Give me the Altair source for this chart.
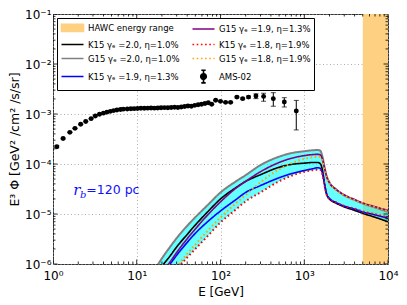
import altair as alt
import numpy as np
import pandas as pd

# ---------------- data ----------------
# AMS-02 points (flux values in units of 1e-3 GeV^2 cm^-2 s^-1 sr^-1)
ams_E = [1.11, 1.32, 1.59, 1.83, 2.14, 2.46, 2.85, 3.20, 3.59,
         4.0, 4.4, 4.84, 5.3, 5.8, 6.4, 6.9, 7.7, 8.5, 9.3,
         10.2, 11.2, 12.3, 13.5, 14.8, 16.2, 17.8, 19.5, 21.4, 23.5,
         25.8, 28.3, 31.0, 34.0, 37.3, 40.9, 44.9, 49.3, 54.1, 59.4,
         65.2, 71.5, 78.5, 87.6, 100, 115, 132, 157, 184, 216,
         265, 327, 427, 578, 803]
ams_F = [0.222, 0.324, 0.430, 0.516, 0.622, 0.710, 0.807, 0.912, 0.991,
         1.04, 1.09, 1.13, 1.17, 1.20, 1.23, 1.25, 1.26, 1.27, 1.28,
         1.29, 1.30, 1.30, 1.31, 1.32, 1.31, 1.32, 1.33, 1.34, 1.33,
         1.35, 1.36, 1.35, 1.38, 1.41, 1.45, 1.43, 1.49, 1.53, 1.57,
         1.62, 1.68, 1.57, 1.88, 1.79, 1.71, 1.71, 2.18, 2.03, 2.18,
         2.29, 2.25, 2.03, 1.74, 1.15]
ams_err_up = [0.01] * 9 + [0.02] * 10 + [0.02] * 10 + [0.02] * 10 + \
             [0.03, 0.03, 0.03, 0.04, 0.04, 0.04, 0.05, 0.08, 0.08, 0.10,
              0.24, 0.35, 0.64, 0.38, 0.72]
ams_err_dn = [0.01] * 9 + [0.02] * 10 + [0.02] * 10 + [0.02] * 10 + \
             [0.03, 0.03, 0.03, 0.04, 0.04, 0.04, 0.05, 0.08, 0.08, 0.10,
              0.26, 0.45, 0.60, 0.36, 0.67]

# model curves on a common energy grid (GeV)
E_grid = [15, 20, 25, 30, 40, 50, 70, 100, 150, 200, 300, 500, 700, 1000,
          1250, 1450, 1550, 1650, 1750, 1850, 2000, 2400, 2900, 4000, 5000,
          7000, 10000]
k15_20 = [4.5e-7, 9.0e-7, 1.45e-6, 2.2e-6, 3.9e-6, 6.0e-6, 1.1e-5, 2.0e-5, 3.3e-5,
          4.5e-5, 6.1e-5, 8.6e-5, 9.8e-5, 1.04e-4, 1.07e-4, 1.07e-4, 1.02e-4,
          7.5e-5, 4.0e-5, 2.5e-5, 2.0e-5, 1.65e-5, 1.42e-5, 1.18e-5, 1.03e-5,
          8.6e-6, 7.0e-6]
g15_20 = [6.0e-7, 1.3e-6, 2.2e-6, 3.3e-6, 5.8e-6, 8.6e-6, 1.5e-5, 2.7e-5, 4.4e-5,
          6.0e-5, 9.5e-5, 1.4e-4, 1.65e-4, 1.8e-4, 1.88e-4, 1.9e-4, 1.85e-4,
          1.4e-4, 8.5e-5, 5.8e-5, 4.3e-5, 3.1e-5, 2.45e-5, 1.9e-5, 1.62e-5,
          1.35e-5, 1.1e-5]
k15_19 = [3.0e-7, 6.2e-7, 1.0e-6, 1.5e-6, 2.7e-6, 4.1e-6, 7.0e-6, 1.15e-5, 1.9e-5,
          2.7e-5, 3.7e-5, 5.3e-5, 6.4e-5, 7.4e-5, 8.0e-5, 8.4e-5, 8.2e-5,
          6.5e-5, 3.8e-5, 2.5e-5, 2.05e-5, 1.7e-5, 1.47e-5, 1.25e-5, 1.1e-5,
          9.6e-6, 8.2e-6]
g15_19 = [3.3e-7, 6.8e-7, 1.1e-6, 1.7e-6, 3.2e-6, 5.0e-6, 9.5e-6, 1.75e-5, 3.2e-5,
          4.5e-5, 7.0e-5, 1.07e-4, 1.3e-4, 1.47e-4, 1.54e-4, 1.56e-4, 1.52e-4,
          1.25e-4, 8.2e-5, 5.6e-5, 4.2e-5, 3.1e-5, 2.5e-5, 1.95e-5, 1.67e-5,
          1.4e-5, 1.18e-5]
k15_18 = [1.5e-7, 3.0e-7, 5.2e-7, 7.8e-7, 1.35e-6, 2.0e-6, 3.6e-6, 6.8e-6, 1.2e-5,
          1.8e-5, 2.7e-5, 4.5e-5, 5.8e-5, 7.0e-5, 7.5e-5, 7.7e-5, 7.6e-5,
          6.2e-5, 3.7e-5, 2.45e-5, 2.0e-5, 1.7e-5, 1.48e-5, 1.28e-5, 1.12e-5,
          9.9e-6, 8.5e-6]
g15_18 = [2.3e-7, 4.0e-7, 6.5e-7, 8.8e-7, 1.6e-6, 2.45e-6, 4.6e-6, 8.5e-6, 1.6e-5,
          2.4e-5, 4.3e-5, 7.8e-5, 1.03e-4, 1.27e-4, 1.36e-4, 1.4e-4, 1.38e-4,
          1.15e-4, 7.8e-5, 5.4e-5, 4.1e-5, 3.0e-5, 2.45e-5, 1.9e-5, 1.65e-5,
          1.38e-5, 1.15e-5]

hawc_range = [5000, 10000]
x_domain = [1, 10000]
y_domain = [1e-6, 1e-1]
x_major = [1, 10, 100, 1000, 10000]
y_major = [1e-6, 1e-5, 1e-4, 1e-3, 1e-2, 1e-1]
x_sup = ['⁰', '¹', '²', '³', '⁴']
y_sup = ['⁻⁶', '⁻⁵', '⁻⁴', '⁻³', '⁻²', '⁻¹']
x_minor = [m * 10 ** k for k in range(0, 4) for m in range(2, 10)]
y_minor = [m * 10.0 ** k for k in range(-6, -1) for m in range(2, 10)]

model_names = ["K15 γₑ =2.0, η=1.0%", "G15 γₑ =2.0, η=1.0%", "K15 γₑ =1.9, η=1.3%",
               "G15 γₑ =1.9, η=1.3%", "K15 γₑ =1.8, η=1.9%", "G15 γₑ =1.8, η=1.9%"]
model_values = [k15_20, g15_20, k15_19, g15_19, k15_18, g15_18]
model_colors = ["#000000", "#808080", "#0000ff", "#800080", "#ff0000", "#ffa500"]
model_dash = [[1, 0], [1, 0], [1, 0], [1, 0], [1.6, 2.6], [1.6, 2.6]]
model_width = [1.6, 2.0, 1.6, 1.6, 2.0, 2.0]

ann_text = ["r", "b", "=120 pc"]
ann_E = [1.74, 2.10, 2.50]
ann_F = [3.0e-5, 2.35e-5, 3.0e-5]

HAWC_COLOR = "#fdd082"
FONT = "DejaVu Sans"

# ---------------- tables ----------------
ams = pd.DataFrame({
    "E": ams_E,
    "F": np.array(ams_F) * 1e-3,
    "lo": (np.array(ams_F) - np.array(ams_err_dn)) * 1e-3,
    "hi": (np.array(ams_F) + np.array(ams_err_up)) * 1e-3,
})
vals = np.array(model_values)
band = pd.DataFrame({"E": E_grid, "lo": vals.min(axis=0), "hi": vals.max(axis=0)})
hawc = pd.DataFrame({"E0": [hawc_range[0]], "E1": [hawc_range[1]],
                     "F0": [y_domain[0]], "F1": [y_domain[1]]})

xs = alt.Scale(type="log", domain=x_domain, nice=False)
ys = alt.Scale(type="log", domain=y_domain, nice=False)

x_label_expr = "'10' + " + str(x_sup) + "[round(log(datum.value)/LN10)]"
y_label_expr = "'10' + " + str(y_sup) + "[round(log(datum.value)/LN10)+6]"

main_x = alt.Axis(values=x_major, labelExpr=x_label_expr, grid=True, ticks=False,
                  domain=False, title="E [GeV]", labelPadding=6, titlePadding=5,
                  orient="bottom", labelFlush=False)
main_y = alt.Axis(values=y_major, labelExpr=y_label_expr, grid=True, ticks=False,
                  domain=False, title="E³ Φ [GeV² /cm² /s/sr]", labelPadding=2,
                  titlePadding=3, orient="left", labelFlush=False, titleFontSize=12.5)


def X(f):
    return alt.X(f, scale=xs, axis=main_x)


def Y(f):
    return alt.Y(f, scale=ys, axis=main_y)


layers = []
layers.append(alt.Chart(hawc).mark_rect(color=HAWC_COLOR).encode(
    x=X("E0:Q"), x2="E1:Q", y=Y("F0:Q"), y2="F1:Q"))

layers.append(alt.Chart(band).mark_area(color="#00ffff", opacity=0.6,
                                        interpolate="monotone", clip=True).encode(
    x=X("E:Q"), y=Y("lo:Q"), y2="hi:Q"))

for name, v, c, d, w in zip(model_names, model_values, model_colors, model_dash, model_width):
    df = pd.DataFrame({"E": E_grid, "F": v})
    layers.append(alt.Chart(df).mark_line(color=c, strokeDash=d, strokeWidth=w,
                                          interpolate="monotone", clip=True).encode(
        x=X("E:Q"), y=Y("F:Q")))

layers.append(alt.Chart(ams).mark_rule(color="black", strokeWidth=1).encode(
    x=X("E:Q"), y=Y("lo:Q"), y2="hi:Q"))
for col in ["lo", "hi"]:
    layers.append(alt.Chart(ams).mark_tick(color="black", orient="horizontal",
                                           size=5, thickness=1).encode(
        x=X("E:Q"), y=Y(col + ":Q")))
layers.append(alt.Chart(ams).mark_circle(color="black", size=24, opacity=1).encode(
    x=X("E:Q"), y=Y("F:Q")))

# annotation
ann = pd.DataFrame({"t": ann_text, "E": ann_E, "F": ann_F})
ann_styles = [dict(fontSize=15, fontStyle="italic", font="DejaVu Serif"),
              dict(fontSize=10, fontStyle="italic", font="DejaVu Serif"),
              dict(fontSize=12.5, font=FONT)]
for i, st in enumerate(ann_styles):
    layers.append(alt.Chart(ann.iloc[[i]]).mark_text(color="#1010ff", align="left",
                                                      baseline="middle", **st).encode(
        x=X("E:Q"), y=Y("F:Q"), text="t:N"))

# inward ticks on the four edges: tick marks centred on the frame, outer half clipped
tx = pd.DataFrame({"E": x_major * 2 + x_minor * 2,
                   "F": [y_domain[0]] * 5 + [y_domain[1]] * 5 +
                        [y_domain[0]] * len(x_minor) + [y_domain[1]] * len(x_minor),
                   "major": [True] * 10 + [False] * (2 * len(x_minor))})
ty = pd.DataFrame({"F": y_major * 2 + y_minor * 2,
                   "E": [x_domain[0]] * 6 + [x_domain[1]] * 6 +
                        [x_domain[0]] * len(y_minor) + [x_domain[1]] * len(y_minor),
                   "major": [True] * 12 + [False] * (2 * len(y_minor))})
for df, orient in [(tx, "vertical"), (ty, "horizontal")]:
    for major, size in [(True, 9), (False, 5)]:
        layers.append(alt.Chart(df[df["major"] == major]).mark_tick(
            color="#000000", orient=orient, size=size, thickness=0.8, clip=True,
            opacity=1).encode(x=X("E:Q"), y=Y("F:Q")))

# legend (two columns, filled column by column)
leg_names = ["HAWC energy range"] + model_names + ["AMS-02"]
line_path = "M-2,0H2"
patch_path = "M-2,-0.65H2V0.65H-2Z"
ams_path = ("M-0.5,0A0.5,0.5 0 1,0 0.5,0A0.5,0.5 0 1,0 -0.5,0Z"
            "M0,-1.15V1.15M-0.4,-1.15H0.4M-0.4,1.15H0.4")
leg_stroke = [HAWC_COLOR] + model_colors + ["#000000"]
leg_fill = [HAWC_COLOR] + ["transparent"] * 6 + ["#000000"]
leg_shape = [patch_path] + [line_path] * 6 + [ams_path]
leg_dash = [[1, 0]] + model_dash + [[1, 0]]

legend = alt.Legend(title=None, orient="none", legendX=4, legendY=4, columns=2,
                    columnPadding=9, rowPadding=3, symbolSize=121,
                    symbolStrokeWidth=1.6, symbolOpacity=1, labelFontSize=8.5,
                    labelFont=FONT, labelLimit=300, padding=3, strokeColor="#000000",
                    fillColor="white", labelOffset=9, symbolOffset=6)
leg_df = pd.DataFrame({"name": leg_names, "E": [1.0] * 8, "F": [1e-6] * 8})
layers.append(alt.Chart(leg_df).mark_point(opacity=0, size=1).encode(
    x=X("E:Q"), y=Y("F:Q"),
    stroke=alt.Stroke("name:N", scale=alt.Scale(domain=leg_names, range=leg_stroke), legend=legend),
    fill=alt.Fill("name:N", scale=alt.Scale(domain=leg_names, range=leg_fill), legend=legend),
    shape=alt.Shape("name:N", scale=alt.Scale(domain=leg_names, range=leg_shape), legend=legend),
    strokeDash=alt.StrokeDash("name:N", scale=alt.Scale(domain=leg_names, range=leg_dash), legend=legend),
))

chart = alt.layer(*layers).properties(
    width=391, height=289, padding=0,
    autosize=alt.AutoSizeParams(type="fit", contains="padding")
).configure_view(stroke="#333333", strokeWidth=1).configure_axis(
    labelFont=FONT, titleFont=FONT, labelFontSize=12, titleFontSize=12,
    titleFontWeight="normal", labelColor="black", titleColor="black",
    gridColor="#999999", gridDash=[1, 2.5], gridWidth=0.8, gridOpacity=1
)

chart.save("out.html", embed_options={"renderer": "svg", "actions": False})
